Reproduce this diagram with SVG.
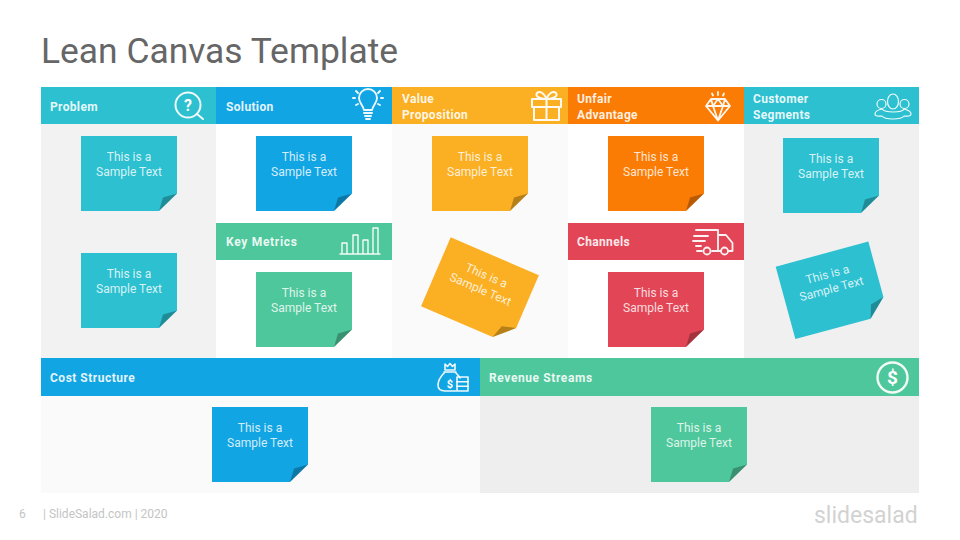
<svg xmlns="http://www.w3.org/2000/svg" width="960" height="540" viewBox="0 0 960 540">
<style>
text{font-family:Roboto,"Liberation Sans",sans-serif}
.h{font-size:12px;font-weight:700;fill:#fff;fill-opacity:.9;letter-spacing:.35px}
.n{font-size:12px;fill:#fff;fill-opacity:.82;text-anchor:middle}
.i{fill:none;stroke:#fff;stroke-opacity:.93;stroke-width:1.8;stroke-linecap:round;stroke-linejoin:round}
.teal{fill:#2cc0d0}.blue{fill:#12a5e4}.yel{fill:#fbaf22}.ora{fill:#fb7c05}.grn{fill:#4fc79c}.red{fill:#e24656}
</style>
<defs>
<path id="b" d="M0 0H96V57.5L78 75H0Z"/>
<path id="f" d="M78 75L96 57.5L82 61.5Z" fill="#000" fill-opacity=".27"/>
<g id="note">
<use href="#b"/><use href="#f"/>
<text class="n" x="48" y="25">This is a</text>
<text class="n" x="48" y="40">Sample Text</text>
</g>
</defs>
<rect width="960" height="540" fill="#fff"/>
<text x="41" y="63" font-size="35.400" fill="#666">Lean Canvas Template</text>

<g id="cells">
<rect x="41" y="124" width="175" height="234" fill="#f2f2f2"/>
<rect x="392" y="124" width="176" height="234" fill="#fafafa"/>
<rect x="744" y="124" width="175" height="234" fill="#f0f0f0"/>
<rect x="41" y="396" width="439" height="97" fill="#fafafa"/>
<rect x="480" y="396" width="439" height="97" fill="#eee"/>
</g>

<g id="problem">
<rect class="teal" x="41" y="87" width="175" height="37"/>
<text class="h" x="50" y="111">Problem</text>
<g class="i" style="stroke-width:2"><circle cx="188" cy="105" r="12.500"/><path d="M197 114L203 119"/></g>
<text x="188" y="111" font-size="16" font-weight="700" fill="#fff" text-anchor="middle">?</text>
</g>
<g id="solution">
<rect class="blue" x="216" y="87" width="176" height="37"/>
<text class="h" x="226" y="111">Solution</text>
<path class="i" style="stroke-width:1.900" d="M364 110C363 105 359 103 359 98A9 9 0 0 1 377 98C377 103 373 105 372 110ZM364 113H372M365 116H371M366 119H370M353 98H355M381 98H383M356 91L358 93M380 91L378 93M356 105L358 104M380 105L378 104"/>
</g>
<g id="value">
<rect class="yel" x="392" y="87" width="176" height="37"/>
<text class="h" x="402" y="103">Value</text>
<text class="h" x="402" y="119">Proposition</text>
<path class="i" style="stroke-width:2" d="M532 99H561V107H532ZM534 107V120H559V107M546.500 99V120M546.500 99C539 99 535 96 537 93C540 90 545 94 546.500 99C548 94 553 90 556 93C558 96 554 99 546.500 99Z"/>
</g>
<g id="unfair">
<rect class="ora" x="568" y="87" width="176" height="37"/>
<text class="h" x="577" y="103">Unfair</text>
<text class="h" x="577" y="119">Advantage</text>
<path class="i" d="M711 99H725L730 106L718 120.500L706 106ZM706 106H730M713 106L718 120.500L723 106M711 99L713 106L718 99L723 106L725 99M718 92V95M712 93.500L713 95.500M724 93.500L723 95.500"/>
</g>
<g id="customer">
<rect class="teal" x="744" y="87" width="175" height="37"/>
<text class="h" x="753" y="103">Customer</text>
<text class="h" x="753" y="119">Segments</text>
<g class="i" style="stroke-width:1.200"><circle cx="881.500" cy="104" r="4.500"/><ellipse cx="893" cy="101.500" rx="5.500" ry="7.500"/><circle cx="904.500" cy="104" r="4.500"/><path d="M882 109C877 110 875 112 875 114C875 117 880 116 882 116C885 120 901 120 904 116C906 116 911 117 911 114C911 112 908 110 904 109C902 113 885 113 882 109Z"/></g>
</g>

<g id="key-metrics">
<rect class="grn" x="216" y="223" width="176" height="37"/>
<text class="h" x="226" y="246" style="letter-spacing:.7px">Key Metrics</text>
<path class="i" style="stroke-width:1.400" d="M340 254H380M342 254V243H347V254M353 254V235H358V254M363 254V240H368V254M373 254V228H378V254"/>
</g>
<g id="channels">
<rect class="red" x="568" y="223" width="176" height="37"/>
<text class="h" x="577" y="246">Channels</text>
<path class="i" d="M696 230H718V251H712M702 251H697M718 235H726L732.500 243V251H729M720 251H716M694 236H708M693 241H705M696 246H701"/>
<g class="i"><circle cx="707" cy="251" r="3.500"/><circle cx="724.500" cy="251" r="3.500"/></g>
</g>
<g id="cost">
<rect class="blue" x="41" y="358" width="439" height="38"/>
<text class="h" x="50" y="382" style="letter-spacing:.5px">Cost Structure</text>
<g class="i" style="stroke-width:1.600"><path d="M445 364L447.500 366.500L450 363.500L452.500 366.500L455 364V370H445ZM444 372H456M445 372C441 376 438 381 438 385C438 389 441 391 445 391H456M455 372C457 374 459 376 460 378"/><rect x="457" y="377" width="11" height="14"/><path d="M457 381.700H468M457 386.300H468"/></g>
<text x="450" y="388" font-size="11" font-weight="700" fill="#fff" text-anchor="middle">$</text>
</g>
<g id="revenue">
<rect class="grn" x="480" y="358" width="439" height="38"/>
<text class="h" x="489" y="382" style="letter-spacing:.6px">Revenue Streams</text>
<circle class="i" style="stroke-width:2.400" cx="892.500" cy="377.500" r="15"/>
<text x="892.500" y="384" font-size="19" font-weight="700" fill="#fff" text-anchor="middle">$</text>
</g>

<use id="note-1" class="teal" href="#note" x="81" y="136"/>
<use id="note-2" class="teal" href="#note" x="81" y="253"/>
<use id="note-3" class="blue" href="#note" x="256" y="136"/>
<use id="note-4" class="grn" href="#note" x="256" y="272"/>
<use id="note-5" class="yel" href="#note" x="432" y="136"/>
<use id="note-6" class="yel" href="#note" transform="translate(450.700 237.300) rotate(23.300)"/>
<use id="note-7" class="ora" href="#note" x="608" y="136"/>
<use id="note-8" class="red" href="#note" x="608" y="272"/>
<use id="note-9" class="teal" href="#note" x="783" y="138"/>
<use id="note-10" class="teal" href="#note" transform="translate(775.700 266.700) rotate(-15.200)"/>
<use id="note-11" class="blue" href="#note" x="212" y="407"/>
<use id="note-12" class="grn" href="#note" x="651" y="407"/>

<g id="connectors"/>

<g id="footer">
<text x="19" y="518" font-size="12" fill="#c4c4c4">6</text>
<text x="43" y="518" font-size="12" fill="#c4c4c4">| SlideSalad.com | 2020</text>
<text x="814" y="523" font-size="23" fill="#d2d2d2">slidesalad</text>
</g>
</svg>
